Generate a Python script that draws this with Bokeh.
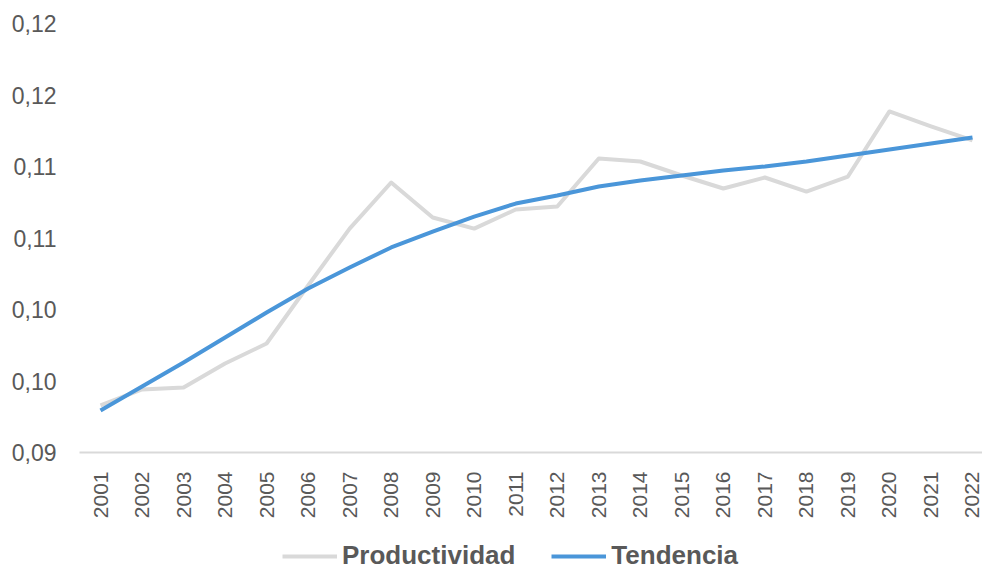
import math
from bokeh.plotting import figure
from bokeh.layouts import column
from bokeh.models import ColumnDataSource, FixedTicker, Range1d, Legend, LegendItem
from bokeh.embed import file_html
from bokeh.resources import INLINE

years = list(range(2001, 2023))
productividad = [0.09329, 0.09441, 0.09455, 0.09622, 0.09762, 0.10168, 0.10566, 0.10888,
                 0.10643, 0.10566, 0.10699, 0.10720, 0.11056, 0.11035, 0.10937, 0.10846,
                 0.10923, 0.10825, 0.10930, 0.11385, 0.11280, 0.11182]
tendencia = [0.09294, 0.09462, 0.09629, 0.09804, 0.09979, 0.10147, 0.10294, 0.10434,
             0.10545, 0.10650, 0.10741, 0.10797, 0.10860, 0.10902, 0.10937, 0.10972,
             0.11000, 0.11035, 0.11077, 0.11119, 0.11161, 0.11203]
y_ticks = [0.090, 0.095, 0.100, 0.105, 0.110, 0.115, 0.120]
y_tick_labels = ["0,09", "0,10", "0,10", "0,11", "0,11", "0,12", "0,12"]
x_tick_labels = [str(y) for y in years]
series_names = ["Productividad", "Tendencia"]

FONT = "Liberation Sans"
TXT = "#595959"
GRAY = "#d9d9d9"
BLUE = "#4a96d9"

src = ColumnDataSource(dict(x=years, prod=productividad, tend=tendencia))

p = figure(width=982, height=527, output_backend="svg", toolbar_location=None,
           x_range=Range1d(2000.494, 2022.241), y_range=Range1d(0.09, 0.12),
           min_border_left=79, min_border_right=0, min_border_top=23, min_border_bottom=75)
p.outline_line_color = None
p.xgrid.grid_line_color = None
p.ygrid.grid_line_color = None

p.line("x", "prod", source=src, line_color=GRAY, line_width=4, line_join="round")
p.line("x", "tend", source=src, line_color=BLUE, line_width=4, line_join="round")

ya = p.yaxis[0]
ya.ticker = FixedTicker(ticks=y_ticks)
ya.major_label_overrides = {t: l for t, l in zip(y_ticks, y_tick_labels)}
ya.axis_line_color = None
ya.major_tick_line_color = None
ya.minor_tick_line_color = None
ya.major_label_text_font = FONT
ya.major_label_text_font_size = "23px"
ya.major_label_text_color = TXT
ya.major_label_standoff = 17

xa = p.xaxis[0]
xa.ticker = FixedTicker(ticks=years)
xa.major_label_overrides = {y: l for y, l in zip(years, x_tick_labels)}
xa.axis_line_color = GRAY
xa.axis_line_width = 2
xa.major_tick_line_color = None
xa.minor_tick_line_color = None
xa.major_label_orientation = math.pi / 2
xa.major_label_text_font = FONT
xa.major_label_text_font_size = "21px"
xa.major_label_text_color = TXT
xa.major_label_standoff = 13

# legend strip (its frame is aligned with the main plot's frame by the column layout)
lg = figure(width=982, height=44, output_backend="svg", toolbar_location=None,
            x_axis_type=None, y_axis_type=None, x_range=Range1d(0, 1), y_range=Range1d(0, 1),
            min_border=0)
lg.outline_line_color = None
lg.xgrid.grid_line_color = None
lg.ygrid.grid_line_color = None
d1 = lg.line(x=[-3, -2], y=[-3, -2], line_color=GRAY, line_width=4)
d2 = lg.line(x=[-3, -2], y=[-3, -2], line_color=BLUE, line_width=4)
legend = Legend(items=[LegendItem(label=series_names[0], renderers=[d1]),
                       LegendItem(label=series_names[1], renderers=[d2])],
                orientation="horizontal", location=(203, 0),
                label_text_font=FONT, label_text_font_size="26px",
                label_text_font_style="bold", label_text_color=TXT,
                glyph_width=55, glyph_height=24, label_standoff=5, spacing=36,
                padding=0, margin=0, border_line_color=None,
                background_fill_alpha=0)
lg.add_layout(legend, "center")

layout = column(p, lg, spacing=0)
open("out.html", "w").write(file_html(layout, INLINE))
